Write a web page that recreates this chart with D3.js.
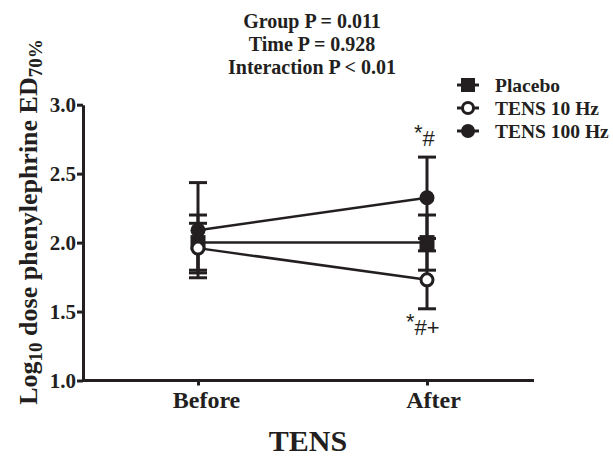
<!DOCTYPE html>
<html><head><meta charset="utf-8">
<script src="https://cdn.jsdelivr.net/npm/d3@7"></script>
<style>body{margin:0;background:#fff}svg{display:block}</style>
</head><body><svg id="c" width="613" height="459"></svg>
<script>
const timepoints = ["Before", "After"];
const seriesNames = ["Placebo", "TENS 10 Hz", "TENS 100 Hz"];
const placeboMean = [2.0, 2.0];
const placeboErr = [0.2, 0.2];
const tens10Mean = [1.96, 1.73];
const tens10Err = [0.18, 0.21];
const tens100Mean = [2.09, 2.325];
const tens100Err = [0.345, 0.295];
const yTicks = [1.0, 1.5, 2.0, 2.5, 3.0];
const titleLines = ["Group P = 0.011", "Time P = 0.928", "Interaction P < 0.01"];

const series = [
  {name: seriesNames[0], mean: placeboMean, err: placeboErr, shape: "square"},
  {name: seriesNames[1], mean: tens10Mean, err: tens10Err, shape: "open"},
  {name: seriesNames[2], mean: tens100Mean, err: tens100Err, shape: "filled"}
];

const svg = d3.select("#c");
const serif = "'Liberation Serif', 'Times New Roman', serif";
const ink = "#231f20";

const x = d3.scalePoint().domain(timepoints).range([198, 427]);
const y = d3.scaleLinear().domain([1, 3]).range([380.5, 104.7]);

// title
svg.append("g").selectAll("text").data(titleLines).join("text")
  .attr("x", 312).attr("y", (d, i) => 28 + i * 23)
  .attr("text-anchor", "middle").attr("font-family", serif)
  .attr("font-weight", "bold").attr("font-size", 20).attr("fill", ink)
  .text(d => d);

// axes
const yAxis = svg.append("g").attr("transform", "translate(83,0)")
  .call(d3.axisLeft(y).tickValues(yTicks).tickFormat(d3.format(".1f")).tickSize(6).tickSizeOuter(0));
const xAxis = svg.append("g").attr("transform", "translate(0,380.5)")
  .call(d3.axisBottom(x).tickSize(5).tickSizeOuter(0));
xAxis.select(".domain").attr("d", "M83,0H534");
[yAxis, xAxis].forEach(a => {
  a.selectAll(".domain, line").attr("stroke", ink).attr("stroke-width", 3);
  a.selectAll("text").attr("font-family", serif).attr("font-weight", "bold").attr("fill", ink);
});
yAxis.selectAll("text").attr("font-size", 21).attr("x", -7).attr("dy", "0.34em");
xAxis.selectAll("text").attr("font-size", 24).attr("y", 10).attr("dy", "0.71em");
xAxis.selectAll(".tick").filter(d => d === "Before").select("text").attr("dx", 8);
xAxis.selectAll(".tick").filter(d => d === "After").select("text").attr("dx", 6);

// axis titles
svg.append("text").attr("x", 308).attr("y", 451).attr("text-anchor", "middle")
  .attr("font-family", serif).attr("font-weight", "bold").attr("font-size", 30).attr("fill", ink)
  .text("TENS");

const yl = svg.append("text").attr("transform", "translate(37,222) rotate(-90)")
  .attr("text-anchor", "middle").attr("font-family", serif).attr("font-weight", "bold")
  .attr("font-size", 26).attr("fill", ink);
yl.append("tspan").text("Log");
yl.append("tspan").attr("font-size", 19).attr("dy", 5).text("10");
yl.append("tspan").attr("dy", -5).text(" dose phenylephrine ED");
yl.append("tspan").attr("font-size", 19).attr("dy", 5).text("70%");

// lines
const line = d3.line().x((d, i) => x(timepoints[i])).y(d => y(d));
svg.append("g").selectAll("path").data(series).join("path")
  .attr("d", s => line(s.mean)).attr("fill", "none").attr("stroke", ink).attr("stroke-width", 2.5);

// error bars
const eb = svg.append("g").attr("stroke", ink).attr("stroke-width", 3);
series.forEach(s => {
  s.mean.forEach((m, i) => {
    const cx = x(timepoints[i]);
    const hi = m + s.err[i], lo = m - s.err[i];
    eb.append("line").attr("x1", cx).attr("x2", cx).attr("y1", y(hi)).attr("y2", y(lo));
    [hi, lo].forEach(v => eb.append("line").attr("x1", cx - 9).attr("x2", cx + 9).attr("y1", y(v)).attr("y2", y(v)));
  });
});

// markers
function marker(g, shape, cx, cy, r) {
  if (shape === "square") {
    g.append("rect").attr("x", cx - r).attr("y", cy - r).attr("width", 2 * r).attr("height", 2 * r).attr("fill", ink);
  } else if (shape === "open") {
    g.append("circle").attr("cx", cx).attr("cy", cy).attr("r", r - 1.5).attr("fill", "#fff").attr("stroke", ink).attr("stroke-width", 3);
  } else {
    g.append("circle").attr("cx", cx).attr("cy", cy).attr("r", r).attr("fill", ink);
  }
}
const mk = svg.append("g");
series.forEach(s => s.mean.forEach((m, i) => marker(mk, s.shape, x(timepoints[i]), y(m), 7.5)));

// significance annotations
const sans = "'Liberation Sans', Arial, sans-serif";
function annot(px, py, rest) {
  const t = svg.append("text").attr("x", px).attr("y", py).attr("font-family", sans)
    .attr("font-size", 22).attr("fill", ink);
  t.append("tspan").text("*");
  t.append("tspan").attr("dy", 6).text(rest);
}
annot(x("After") - 13, y(tens100Mean[1] + tens100Err[1]) - 17, "#");
annot(x("After") - 21, y(tens10Mean[1] - tens10Err[1]) + 20, "#+");

// legend
const lg = svg.append("g");
series.forEach((s, i) => {
  const cy = 85 + i * 23;
  lg.append("line").attr("x1", 457).attr("x2", 479).attr("y1", cy).attr("y2", cy)
    .attr("stroke", ink).attr("stroke-width", 3);
  marker(lg, s.shape, 468, cy, 7);
  lg.append("text").attr("x", 495).attr("y", cy).attr("dy", "0.35em")
    .attr("font-family", serif).attr("font-weight", "bold").attr("font-size", 19.5).attr("fill", ink)
    .text(s.name);
});
</script></body></html>
